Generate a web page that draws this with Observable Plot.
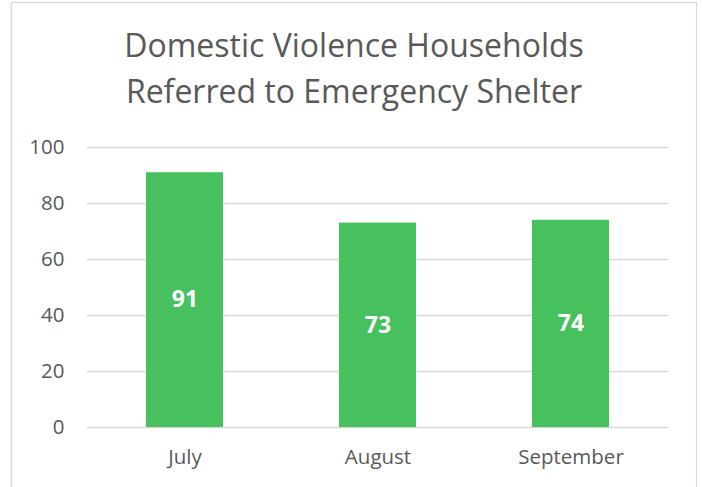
<!DOCTYPE html>
<html><head><meta charset="utf-8">
<script src="https://cdn.jsdelivr.net/npm/d3@7"></script>
<script src="https://cdn.jsdelivr.net/npm/@observablehq/plot@0.6"></script>
<style>body{margin:0;background:#fff;} #c{position:relative;width:702px;height:487px;}</style>
</head><body><div id="c"></div>
<script>
const months = ["July", "August", "September"];
const households = [91, 73, 74];
const yTicks = [0, 20, 40, 60, 80, 100];
const titleLines = ["Domestic Violence Households", "Referred to Emergency Shelter"];

const data = months.map((m, i) => ({month: m, value: households[i]}));
const font = "'Open Sans', sans-serif";

const chart = Plot.plot({
  width: 702, height: 487,
  marginLeft: 87, marginRight: 34, marginTop: 147, marginBottom: 60,
  style: {fontFamily: font, background: "#fff", overflow: "visible"},
  x: {domain: months, paddingInner: 0.6, paddingOuter: 0.3, label: null},
  y: {domain: [0, 100], label: null},
  marks: [
    Plot.gridY(yTicks, {stroke: "#D9D9D9", strokeOpacity: 1, strokeWidth: 1.3}),
    Plot.barY(data, {x: "month", y: "value", fill: "#47C15E"}),
    Plot.text(data, {x: "month", y: d => d.value / 2, text: d => String(d.value), fill: "white", fontWeight: "bold", fontSize: 23}),
    Plot.axisY(yTicks, {tickSize: 0, tickPadding: 23, fontSize: 20.5, color: "#595959", label: null}),
    Plot.axisX({tickSize: 0, tickPadding: 22, fontSize: 20.5, color: "#595959", label: null})
  ]
});
document.getElementById("c").appendChild(chart);
const svg = d3.select(chart);
svg.append("rect").attr("x", 11.5).attr("y", 2.5).attr("width", 685).attr("height", 500)
  .attr("fill", "none").attr("stroke", "#D9D9D9").attr("stroke-width", 1.3);
svg.append("g").selectAll("text").data(titleLines).join("text")
  .attr("x", 354).attr("y", (d, i) => 57 + i * 46)
  .attr("text-anchor", "middle")
  .attr("fill", "#595959").style("font-family", font).style("font-size", "32px")
  .style("font-variant-ligatures", "none")
  .text(d => d);
</script></body></html>
